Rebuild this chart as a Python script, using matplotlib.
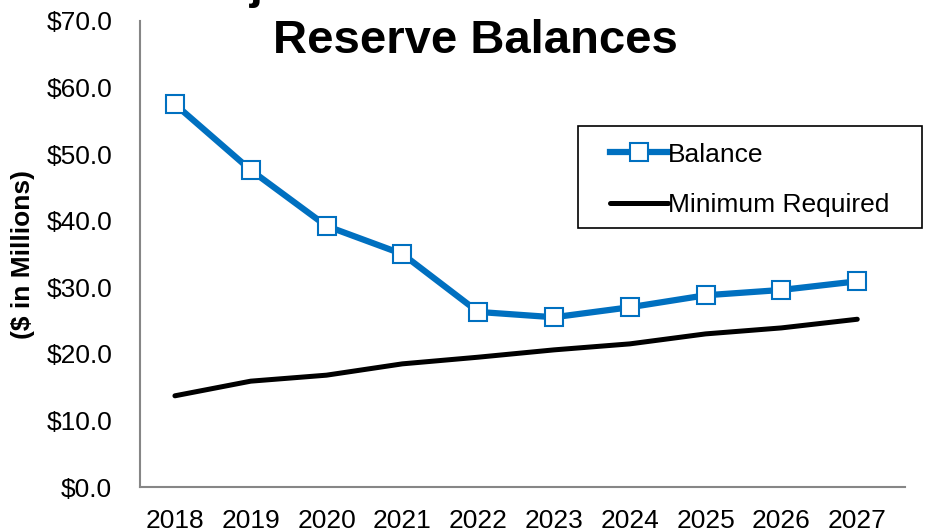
import matplotlib
matplotlib.use('Agg')
import matplotlib.pyplot as plt
from matplotlib.patches import Rectangle

plt.rcParams['font.family'] = ['Liberation Sans', 'DejaVu Sans']

# Data ($ in millions)
years = ['2018', '2019', '2020', '2021', '2022', '2023', '2024', '2025', '2026', '2027']
balance = [57.5, 47.6, 39.2, 35.0, 26.3, 25.5, 27.0, 28.8, 29.6, 30.9]
minimum_required = [13.7, 15.9, 16.8, 18.5, 19.5, 20.6, 21.5, 23.0, 23.9, 25.2]
yticks = [0, 10, 20, 30, 40, 50, 60, 70]

BLUE = '#0070C0'
AXIS_GREY = '#868686'

fig = plt.figure(figsize=(9.25, 5.3), dpi=100)
ax = fig.add_axes([0.1514, 0.0811, 0.8270, 0.8793])

x = list(range(len(years)))
ax.plot(x, balance, color=BLUE, linewidth=4.5, marker='s', markersize=13,
        markerfacecolor='white', markeredgecolor=BLUE, markeredgewidth=1.5,
        label='Balance', zorder=3)
ax.plot(x, minimum_required, color='black', linewidth=3.6,
        solid_capstyle='round', label='Minimum Required', zorder=2)

ax.set_xlim(-0.46, 9.63)
ax.set_ylim(0, 70)
ax.set_xticks(x)
ax.set_xticklabels(years)
ax.set_yticks(yticks)
ax.set_yticklabels([f'${v:.1f}' for v in yticks])
ax.tick_params(axis='both', length=0, labelsize=19)
ax.tick_params(axis='x', pad=16)
ax.tick_params(axis='y', pad=20)

for side in ['top', 'right']:
    ax.spines[side].set_visible(False)
for side in ['left', 'bottom']:
    ax.spines[side].set_color(AXIS_GREY)
    ax.spines[side].set_linewidth(1.5)

ax.set_ylabel('($ in Millions)', fontsize=19, fontweight='bold')
ax.yaxis.set_label_coords(-0.137, 0.5)

# legend without its own frame, box drawn separately (wider padding)
leg = ax.legend(loc='center', bbox_to_anchor=(750 / 925, 1 - 180 / 530),
                bbox_transform=fig.transFigure, fontsize=19, frameon=False,
                handlelength=2.2, handletextpad=0.0, labelspacing=1.02,
                borderpad=0.0, borderaxespad=0)
fig.patches.append(Rectangle((578 / 925, 1 - 228 / 530), 344 / 925, 102 / 530,
                             transform=fig.transFigure, fill=False,
                             edgecolor='black', linewidth=1.2))

# Title (first line is clipped off the top in the original)
fig.text(0.5135, 1 + 2 / 530, 'Projected Water and Sewer', ha='center',
         va='baseline', fontsize=34, fontweight='bold')
fig.text(0.5135, 1 - 53 / 530, 'Reserve Balances', ha='center',
         va='baseline', fontsize=34, fontweight='bold')

fig.savefig('out.png', dpi=100)
